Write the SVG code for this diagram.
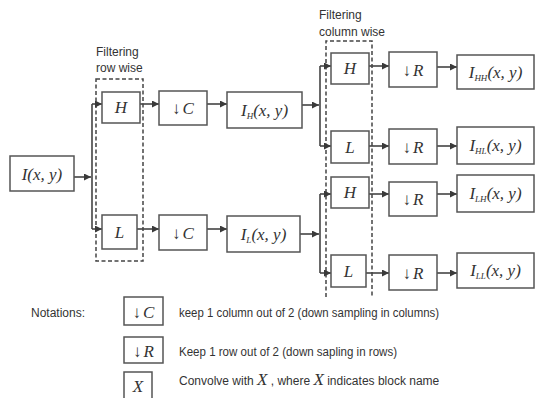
<svg xmlns="http://www.w3.org/2000/svg" width="536" height="398" viewBox="0 0 536 398">
<defs>
<marker id="ah" viewBox="0 0 10 10" refX="10" refY="5" markerWidth="8" markerHeight="7" markerUnits="userSpaceOnUse" orient="auto">
<path d="M0,0 L10,5 L0,10 Z" fill="#3a3a3a"/>
</marker>
</defs>
<style>
.box{fill:#fff;stroke:#555;stroke-width:1.5}
.dash{fill:none;stroke:#444;stroke-width:1.5;stroke-dasharray:4,2.5}
.ln{fill:none;stroke:#444;stroke-width:1.6}
.ar{fill:none;stroke:#444;stroke-width:1.6;marker-end:url(#ah)}
.m{font-family:"Liberation Serif","Times New Roman",serif;font-style:italic;font-size:17px;fill:#333;text-anchor:middle}
.up{font-style:normal;fill:#333}
.sub{font-size:9px}
.s{font-family:"Liberation Sans",Arial,sans-serif;font-size:12px;fill:#333}
</style>
<rect width="536" height="398" fill="#fff"/>

<g id="frames">
<rect class="dash" x="96" y="79" width="47" height="182"/>
<path class="dash" d="M326,297 V41 H372 V297"/>
<text class="s" x="96" y="56">Filtering</text>
<text class="s" x="96" y="72">row wise</text>
<text class="s" x="319" y="19">Filtering</text>
<text class="s" x="319" y="36">column wise</text>
</g>

<g id="connectors">
<line class="ar" x1="74" y1="177" x2="91" y2="177"/>
<line class="ln" x1="92" y1="104" x2="92" y2="229"/>
<line class="ar" x1="92" y1="104" x2="102" y2="104"/>
<line class="ar" x1="92" y1="229" x2="102" y2="229"/>
<line class="ar" x1="140" y1="104" x2="159" y2="104"/>
<line class="ar" x1="207" y1="104" x2="227" y2="104"/>
<line class="ar" x1="137" y1="229" x2="159" y2="229"/>
<line class="ar" x1="207" y1="229" x2="227" y2="229"/>
<line class="ar" x1="302" y1="105" x2="319" y2="105"/>
<line class="ln" x1="320" y1="66" x2="320" y2="146"/>
<line class="ar" x1="320" y1="66" x2="331" y2="66"/>
<line class="ar" x1="320" y1="146" x2="331" y2="146"/>
<line class="ar" x1="369" y1="66" x2="389" y2="66"/>
<line class="ar" x1="369" y1="146" x2="389" y2="146"/>
<line class="ar" x1="437" y1="67" x2="457" y2="67"/>
<line class="ar" x1="437" y1="146" x2="457" y2="146"/>
<line class="ar" x1="300" y1="234" x2="319" y2="234"/>
<line class="ln" x1="320" y1="194" x2="320" y2="273"/>
<line class="ar" x1="320" y1="194" x2="331" y2="194"/>
<line class="ar" x1="320" y1="273" x2="331" y2="273"/>
<line class="ar" x1="369" y1="194" x2="389" y2="194"/>
<line class="ar" x1="366" y1="273" x2="389" y2="273"/>
<line class="ar" x1="437" y1="194" x2="457" y2="194"/>
<line class="ar" x1="437" y1="273" x2="457" y2="273"/>
</g>

<g id="input"><rect class="box" x="10" y="156" width="64" height="35"/><text class="m" x="42" y="180">I(x, y)</text></g>
<g id="H1"><rect class="box" x="102" y="92" width="38" height="31"/><text class="m" x="121" y="113">H</text></g>
<g id="L1"><rect class="box" x="102" y="215" width="35" height="34"/><text class="m" x="119.5" y="238">L</text></g>
<g id="C1"><rect class="box" x="159" y="91" width="48" height="34"/><text class="m" x="183" y="114"><tspan class="up">↓</tspan><tspan dx="2">C</tspan></text></g>
<g id="C2"><rect class="box" x="159" y="215" width="48" height="35"/><text class="m" x="183" y="239"><tspan class="up">↓</tspan><tspan dx="2">C</tspan></text></g>
<g id="IH"><rect class="box" x="227" y="92" width="75" height="36"/><text class="m" x="264.5" y="116">I<tspan class="sub" dy="3">H</tspan><tspan dy="-3">(x, y)</tspan></text></g>
<g id="IL"><rect class="box" x="227" y="216" width="73" height="36"/><text class="m" x="263.5" y="240">I<tspan class="sub" dy="3">L</tspan><tspan dy="-3">(x, y)</tspan></text></g>

<g id="H2"><rect class="box" x="331" y="53" width="38" height="31"/><text class="m" x="350" y="74">H</text></g>
<g id="L2"><rect class="box" x="331" y="131" width="38" height="32"/><text class="m" x="350" y="153">L</text></g>
<g id="H3"><rect class="box" x="331" y="177" width="38" height="31"/><text class="m" x="350" y="198">H</text></g>
<g id="L3"><rect class="box" x="331" y="255" width="35" height="32"/><text class="m" x="348.5" y="277">L</text></g>

<g id="R1"><rect class="box" x="389" y="52" width="48" height="35"/><text class="m" x="413" y="76"><tspan class="up">↓</tspan><tspan dx="2">R</tspan></text></g>
<g id="R2"><rect class="box" x="389" y="129" width="48" height="35"/><text class="m" x="413" y="153"><tspan class="up">↓</tspan><tspan dx="2">R</tspan></text></g>
<g id="R3"><rect class="box" x="389" y="182" width="48" height="34"/><text class="m" x="413" y="205"><tspan class="up">↓</tspan><tspan dx="2">R</tspan></text></g>
<g id="R4"><rect class="box" x="389" y="255" width="48" height="35"/><text class="m" x="413" y="279"><tspan class="up">↓</tspan><tspan dx="2">R</tspan></text></g>

<g id="IHH"><rect class="box" x="457" y="55" width="77" height="34"/><text class="m" x="495.5" y="78">I<tspan class="sub" dy="3">HH</tspan><tspan dy="-3">(x, y)</tspan></text></g>
<g id="IHL"><rect class="box" x="457" y="127" width="77" height="37"/><text class="m" x="495.5" y="151">I<tspan class="sub" dy="3">HL</tspan><tspan dy="-3">(x, y)</tspan></text></g>
<g id="ILH"><rect class="box" x="457" y="175" width="77" height="37"/><text class="m" x="495.5" y="199">I<tspan class="sub" dy="3">LH</tspan><tspan dy="-3">(x, y)</tspan></text></g>
<g id="ILL"><rect class="box" x="457" y="253" width="77" height="35"/><text class="m" x="495.5" y="276">I<tspan class="sub" dy="3">LL</tspan><tspan dy="-3">(x, y)</tspan></text></g>

<g id="legend">
<text class="s" x="31" y="317">Notations:</text>
<rect class="box" x="124" y="297" width="39" height="28"/>
<text class="m" x="143.5" y="318"><tspan class="up">↓</tspan><tspan dx="2">C</tspan></text>
<text class="s" x="179" y="317" textLength="260" lengthAdjust="spacingAndGlyphs">keep 1 column out of 2 (down sampling in columns)</text>
<rect class="box" x="124" y="337" width="39" height="26"/>
<text class="m" x="143.5" y="357"><tspan class="up">↓</tspan><tspan dx="2">R</tspan></text>
<text class="s" x="179" y="356" textLength="218" lengthAdjust="spacingAndGlyphs">Keep 1 row out of 2 (down sapling in rows)</text>
<rect class="box" x="124" y="372" width="28" height="30"/>
<text class="m" x="138" y="392">X</text>
<text class="s" x="179" y="385">Convolve with <tspan class="m" style="text-anchor:start">X</tspan> , where <tspan class="m" style="text-anchor:start">X</tspan> indicates block name</text>
</g>
</svg>
